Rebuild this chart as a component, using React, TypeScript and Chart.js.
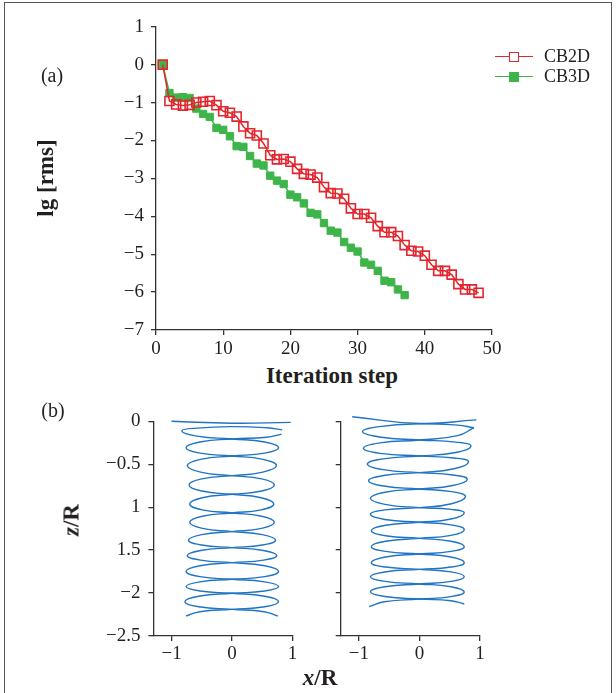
import React, { useEffect, useRef } from "react";
import { Chart, registerables } from "chart.js";

Chart.register(...registerables);

// ---------- Panel (a) data ----------
const iterCB2D = [1, 2, 3, 4, 5, 6, 7, 8, 9, 10, 11, 12, 13, 14, 15, 16, 17, 18, 19, 20, 21, 22, 23, 24, 25, 26, 27, 28, 29, 30, 31, 32, 33, 34, 35, 36, 37, 38, 39, 40, 41, 42, 43, 44, 45, 46, 47, 48];
const rmsCB2D = [0, -0.96, -1.05, -1.08, -1.06, -1.0, -0.98, -0.96, -1.07, -1.23, -1.27, -1.37, -1.63, -1.81, -1.87, -2.08, -2.39, -2.5, -2.49, -2.56, -2.75, -2.88, -2.9, -2.98, -3.23, -3.39, -3.4, -3.54, -3.79, -3.94, -3.94, -4.04, -4.26, -4.42, -4.42, -4.52, -4.76, -4.91, -4.93, -5.04, -5.28, -5.44, -5.44, -5.54, -5.79, -5.93, -5.93, -6.02];
const iterCB3D = [1, 2, 3, 4, 5, 6, 7, 8, 9, 10, 11, 12, 13, 14, 15, 16, 17, 18, 19, 20, 21, 22, 23, 24, 25, 26, 27, 28, 29, 30, 31, 32, 33, 34, 35, 36, 37];
const rmsCB3D = [0, -0.75, -0.87, -0.86, -0.88, -1.16, -1.3, -1.38, -1.67, -1.72, -1.89, -2.15, -2.17, -2.41, -2.61, -2.66, -2.93, -3.06, -3.15, -3.43, -3.5, -3.66, -3.91, -3.95, -4.18, -4.38, -4.43, -4.68, -4.83, -4.93, -5.22, -5.28, -5.44, -5.7, -5.74, -5.93, -6.08];
const iterTicks = [0, 10, 20, 30, 40, 50];
const lgTicks = [1, 0, -1, -2, -3, -4, -5, -6, -7];

// ---------- Panel (b) data ----------
const zTickValues = [0, -0.5, -1, -1.5, -2, -2.5];
const zTickLabels = ["0", "\u22120.5", "1", "1.5", "\u22122", "\u22122.5"];
const xTickValues = [-1, 0, 1];
const xTickLabels = ["\u22121", "0", "1"];

// left wake
const leftTopX = [-1.0, 0, 0.97];
const leftTopZ = [0.0, -0.022, -0.012];
const leftAX = [0.83, 0.58, 0, -0.58, -0.83, -0.58, 0, 0.54, 0.77, 0.54, 0, -0.52, -0.74, -0.52, 0, 0.49, 0.7, 0.49, 0, -0.49, -0.7, -0.49, 0, 0.49, 0.7, 0.49, 0, -0.5, -0.72, -0.5, 0, 0.52, 0.74, 0.52, 0, -0.53, -0.76, -0.53, 0, 0.54, 0.77, 0.54, 0, -0.55, -0.78, -0.55, 0, 0.53, 0.756];
const leftAZ = [-0.1, -0.075, -0.062, -0.079, -0.11, -0.172, -0.206, -0.241, -0.307, -0.37, -0.404, -0.443, -0.516, -0.592, -0.633, -0.671, -0.741, -0.812, -0.85, -0.89, -0.963, -1.031, -1.067, -1.105, -1.176, -1.247, -1.285, -1.32, -1.386, -1.441, -1.471, -1.504, -1.564, -1.617, -1.646, -1.682, -1.75, -1.809, -1.84, -1.87, -1.925, -1.976, -2.003, -2.037, -2.1, -2.159, -2.19, -2.217, -2.267];
const leftBX = [0.82, 0.57, 0, -0.53, -0.76, -0.53, 0, 0.51, 0.735, 0.51, 0, -0.5, -0.71, -0.5, 0, 0.48, 0.69, 0.48, 0, -0.49, -0.7, -0.49, 0, 0.5, 0.72, 0.5, 0, -0.52, -0.74, -0.52, 0, 0.54, 0.77, 0.54, 0, -0.53, -0.76, -0.53, 0, 0.54, 0.77, 0.54, 0, -0.53, -0.76];
const leftBZ = [-0.15, -0.186, -0.206, -0.241, -0.307, -0.37, -0.404, -0.443, -0.516, -0.592, -0.633, -0.671, -0.741, -0.812, -0.85, -0.89, -0.963, -1.031, -1.067, -1.105, -1.176, -1.247, -1.285, -1.32, -1.386, -1.441, -1.471, -1.504, -1.564, -1.617, -1.646, -1.682, -1.75, -1.809, -1.84, -1.87, -1.925, -1.976, -2.003, -2.037, -2.1, -2.159, -2.19, -2.217, -2.267];

// right wake
const rightTopX = [-1.11, 0, 0.94];
const rightTopZ = [0.053, -0.025, 0.016];
const rightAX = [0.9, 0.63, 0, -0.66, -0.94, -0.66, 0, 0.6, 0.85, 0.6, 0, -0.6, -0.86, -0.6, 0, 0.55, 0.79, 0.55, 0, -0.57, -0.81, -0.57, 0, 0.52, 0.74, 0.52, 0, -0.56, -0.795, -0.56, 0, 0.52, 0.74, 0.52, 0, -0.56, -0.795, -0.56, 0, 0.52, 0.74, 0.52, 0, -0.57, -0.81, -0.57, 0, 0.52, 0.74];
const rightAZ = [-0.074, -0.045, -0.03, -0.062, -0.12, -0.183, -0.217, -0.242, -0.287, -0.363, -0.404, -0.437, -0.497, -0.563, -0.598, -0.625, -0.675, -0.748, -0.788, -0.826, -0.897, -0.967, -1.005, -1.026, -1.064, -1.137, -1.176, -1.21, -1.273, -1.332, -1.363, -1.397, -1.46, -1.515, -1.545, -1.58, -1.646, -1.697, -1.724, -1.754, -1.809, -1.864, -1.894, -1.926, -1.984, -2.04, -2.07, -2.09, -2.127];
const rightBX = [0.9, 0.63, 0, -0.65, -0.925, -0.65, 0, 0.57, 0.81, 0.57, 0, -0.59, -0.84, -0.59, 0, 0.53, 0.76, 0.53, 0, -0.57, -0.81, -0.57, 0, 0.52, 0.74, 0.52, 0, -0.56, -0.795, -0.56, 0, 0.52, 0.74, 0.52, 0, -0.57, -0.81, -0.57, 0, 0.52, 0.74, 0.52, 0, -0.58, -0.83];
const rightBZ = [-0.074, -0.167, -0.217, -0.251, -0.314, -0.373, -0.404, -0.427, -0.47, -0.553, -0.598, -0.631, -0.691, -0.754, -0.788, -0.819, -0.877, -0.96, -1.005, -1.032, -1.083, -1.143, -1.176, -1.206, -1.262, -1.328, -1.363, -1.397, -1.46, -1.515, -1.545, -1.58, -1.646, -1.697, -1.724, -1.754, -1.809, -1.864, -1.894, -1.927, -1.988, -2.041, -2.07, -2.101, -2.158];

const FONT = "'Liberation Serif', 'Times New Roman', serif";
const TEXT = "#231f20";
const AXIS = "#333333";
const RED = "#e3262e";
const GREEN = "#3db54a";
const BLUE = "#1f74c4";

Chart.defaults.font.family = FONT;

const zip = (xs: number[], ys: number[]) => xs.map((x, i) => ({ x, y: ys[i] }));
const minus = (v: number) => String(v).replace("-", "\u2212");

function axisCommon(extra: any) {
  return {
    type: "linear",
    grid: { display: true, drawOnChartArea: false, drawTicks: true, tickLength: 5, color: AXIS, lineWidth: 1.3 },
    border: { display: true, color: AXIS, width: 1.3 },
    ...extra,
  };
}

function helixConfig(top: any[], a: any[], b: any[], yWidth: number, showYLabels: boolean, padRight: number) {
  const line = (data: any[]) => ({
    data,
    showLine: true,
    borderColor: BLUE,
    borderWidth: 1.4,
    pointRadius: 0,
    tension: 0.5,
    clip: false,
    fill: false,
  });
  return {
    type: "scatter",
    data: { datasets: [line(top), line(a), line(b)] },
    options: {
      animation: false,
      responsive: false,
      events: [],
      layout: { padding: { top: 21.3, right: padRight, bottom: 0, left: 0 } },
      elements: { line: { capBezierPoints: false } },
      plugins: { legend: { display: false }, tooltip: { enabled: false } },
      scales: {
        x: axisCommon({
          min: -1.3,
          max: 1,
          afterBuildTicks: (s: any) => { s.ticks = xTickValues.map((v) => ({ value: v })); },
          afterFit: (s: any) => { s.height = 34; },
          ticks: {
            autoSkip: false, maxRotation: 0, padding: 2, color: TEXT,
            font: { family: FONT, size: 19 },
            callback: (v: number) => xTickLabels[xTickValues.indexOf(v)] ?? "",
          },
        }),
        y: axisCommon({
          min: -2.5,
          max: 0,
          afterBuildTicks: (s: any) => { s.ticks = zTickValues.map((v) => ({ value: v })); },
          afterFit: (s: any) => { s.width = yWidth; },
          ticks: {
            autoSkip: false, padding: 8, color: TEXT,
            font: { family: FONT, size: 19 },
            callback: (v: number) => (showYLabels ? zTickLabels[zTickValues.indexOf(v)] ?? "" : ""),
          },
        }),
      },
    },
  };
}

export default function App() {
  const refA = useRef<HTMLCanvasElement>(null);
  const refL = useRef<HTMLCanvasElement>(null);
  const refR = useRef<HTMLCanvasElement>(null);

  useEffect(() => {
    const charts: Chart[] = [];
    const cA = new Chart(refA.current as HTMLCanvasElement, {
      type: "scatter",
      data: {
        datasets: [
          {
            label: "CB2D",
            data: zip(iterCB2D, rmsCB2D),
            showLine: true,
            borderColor: RED,
            borderWidth: 1.5,
            pointStyle: "rect",
            pointRadius: 6.4,
            pointBorderWidth: 1.6,
            pointBorderColor: RED,
            pointBackgroundColor: "rgba(0,0,0,0)",
            tension: 0,
            clip: false,
          },
          {
            label: "CB3D",
            data: zip(iterCB3D, rmsCB3D),
            showLine: true,
            borderColor: GREEN,
            borderWidth: 1.5,
            pointStyle: "rect",
            pointRadius: 5.2,
            pointBorderWidth: 1,
            pointBorderColor: GREEN,
            pointBackgroundColor: GREEN,
            tension: 0,
            clip: false,
          },
        ],
      },
      options: {
        animation: false,
        responsive: false,
        events: [],
        layout: { padding: { top: 26.7, right: 18, bottom: 0, left: 0 } },
        plugins: { legend: { display: false }, tooltip: { enabled: false } },
        scales: {
          x: axisCommon({
            min: 0,
            max: 50,
            afterBuildTicks: (s: any) => { s.ticks = iterTicks.map((v) => ({ value: v })); },
            afterFit: (s: any) => { s.height = 30; },
            ticks: { autoSkip: false, maxRotation: 0, padding: 3, color: TEXT, font: { family: FONT, size: 19 } },
          }),
          y: axisCommon({
            min: -7,
            max: 1,
            afterBuildTicks: (s: any) => { s.ticks = lgTicks.map((v) => ({ value: v })); },
            afterFit: (s: any) => { s.width = 156; },
            ticks: { autoSkip: false, padding: 7, color: TEXT, font: { family: FONT, size: 19 }, callback: (v: number) => minus(v) },
          }),
        },
      },
    } as any);
    charts.push(cA);

    charts.push(new Chart(refL.current as HTMLCanvasElement, helixConfig(zip(leftTopX, leftTopZ), zip(leftAX, leftAZ), zip(leftBX, leftBZ), 153.4, true, 17.5) as any));
    charts.push(new Chart(refR.current as HTMLCanvasElement, helixConfig(zip(rightTopX, rightTopZ), zip(rightAX, rightAZ), zip(rightBX, rightBZ), 40.7, false, 20) as any));

    let alive = true;
    if ((document as any).fonts && (document as any).fonts.ready) {
      (document as any).fonts.ready.then(() => { if (alive) charts.forEach((c) => c.update()); });
    }

    return () => { alive = false; charts.forEach((c) => c.destroy()); };
  }, []);

  const text = (style: React.CSSProperties, content: React.ReactNode, rotate = false) => (
    <div
      style={{
        position: "absolute",
        fontFamily: FONT,
        color: TEXT,
        whiteSpace: "nowrap",
        lineHeight: 1,
        transform: `translate(-50%, -50%)${rotate ? " rotate(-90deg)" : ""}`,
        ...style,
      }}
    >
      {content}
    </div>
  );

  return (
    <div style={{ position: "absolute", left: 0, top: 0, width: 616, height: 693, overflow: "hidden", background: "#fff" }}>
      <div style={{ position: "absolute", left: 4, top: 2, width: 606, height: 720, border: "1.6px solid #555" }} />
      <canvas ref={refA} width={510} height={360} style={{ position: "absolute", left: 0, top: 0, width: 510, height: 360 }} />
      <canvas ref={refL} width={310} height={270} style={{ position: "absolute", left: 0, top: 400, width: 310, height: 270 }} />
      <canvas ref={refR} width={200} height={270} style={{ position: "absolute", left: 300, top: 400, width: 200, height: 270 }} />

      {text({ left: 52, top: 75, fontSize: 20 }, "(a)")}
      {text({ left: 53, top: 410, fontSize: 20 }, "(b)")}
      {text({ left: 45, top: 178, fontSize: 23, fontWeight: "bold" }, "lg [rms]", true)}
      {text({ left: 332, top: 375, fontSize: 23, fontWeight: "bold" }, "Iteration step")}
      {text({ left: 320, top: 677, fontSize: 23, fontWeight: "bold" }, <span><i>x</i>/R</span>)}
      {text({ left: 71, top: 520, fontSize: 23, fontWeight: "bold" }, <span><i>z</i>/R</span>, true)}

      {/* legend */}
      <div style={{ position: "absolute", left: 495, top: 55.5, width: 38, height: 1.5, background: RED }} />
      <div style={{ position: "absolute", left: 509, top: 51.5, width: 8, height: 8, border: `1.6px solid ${RED}`, background: "#fff" }} />
      {text({ left: 567, top: 56, fontSize: 18 }, "CB2D")}
      <div style={{ position: "absolute", left: 495, top: 75.5, width: 38, height: 1.5, background: GREEN }} />
      <div style={{ position: "absolute", left: 509, top: 71.5, width: 10, height: 10, background: GREEN }} />
      {text({ left: 567, top: 76, fontSize: 18 }, "CB3D")}
    </div>
  );
}
